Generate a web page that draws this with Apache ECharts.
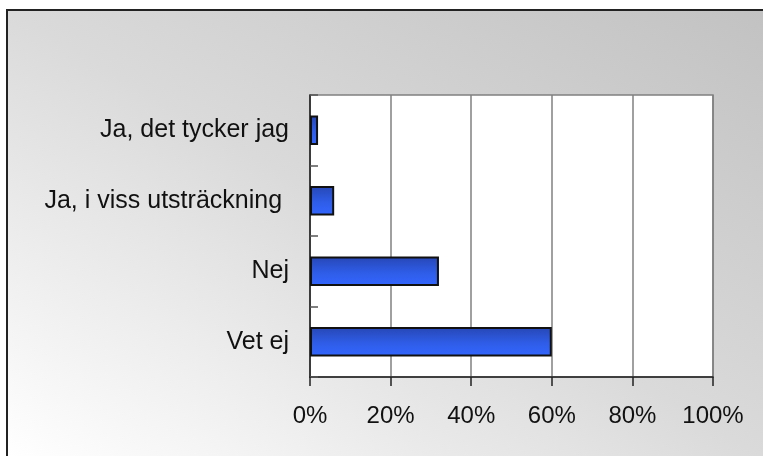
<!DOCTYPE html>
<html>
<head>
<meta charset="utf-8">
<script src="https://cdn.jsdelivr.net/npm/echarts@6/dist/echarts.min.js"></script>
<style>
  html, body { margin: 0; padding: 0; background: #fff; }
  #chart { width: 763px; height: 456px; }
</style>
</head>
<body>
<div id="chart"></div>
<script>
// answers, top to bottom
const categories = ['Ja, det tycker jag', 'Ja, i viss utsträckning ', 'Nej', 'Vet ej'];
const shares = [2, 6, 32, 60];
const tickMax = 100;
const tickStep = 20;

const chart = echarts.init(document.getElementById('chart'), null, { renderer: 'canvas' });

const font = "'Liberation Sans', Arial, sans-serif";

const option = {
  backgroundColor: '#ffffff',
  animation: false,
  textStyle: { fontFamily: font },
  graphic: [{
    type: 'rect',
    z: -10,
    silent: true,
    shape: { x: 7, y: 10, width: 800, height: 500 },
    style: {
      fill: {
        type: 'linear', x: 7, y: 456, x2: 397, y2: -205, global: true,
        colorStops: [
          { offset: 0, color: '#ffffff' },
          { offset: 0.5, color: '#dadada' },
          { offset: 1, color: '#c2c2c2' }
        ]
      },
      stroke: '#222',
      lineWidth: 2
    }
  }],
  grid: {
    left: 310,
    right: 50,
    top: 95,
    bottom: 79,
    show: true,
    backgroundColor: '#ffffff',
    borderColor: '#808080',
    borderWidth: 1.5
  },
  xAxis: {
    type: 'value',
    min: 0,
    max: tickMax,
    interval: tickStep,
    axisLine: { show: true, lineStyle: { color: '#222', width: 1.5 } },
    axisTick: { show: true, inside: false, length: 9, lineStyle: { color: '#222', width: 1.5 } },
    splitLine: { show: true, lineStyle: { color: '#808080', width: 1.5 } },
    axisLabel: {
      formatter: '{value}%',
      color: '#111',
      fontSize: 24,
      fontFamily: font,
      margin: 27
    }
  },
  yAxis: {
    type: 'category',
    inverse: true,
    data: categories,
    axisLine: { show: true, lineStyle: { color: '#222', width: 1.5 } },
    axisTick: { show: true, inside: true, length: 8, lineStyle: { color: '#555', width: 1.5 } },
    axisLabel: {
      color: '#111',
      fontSize: 25,
      fontFamily: font,
      margin: 21
    }
  },
  series: [{
    type: 'bar',
    data: shares,
    barWidth: '42%',
    itemStyle: {
      borderColor: '#111',
      borderWidth: 2,
      color: {
        type: 'linear', x: 0, y: 0, x2: 0, y2: 1,
        colorStops: [
          { offset: 0, color: '#2646b4' },
          { offset: 0.55, color: '#2f5de8' },
          { offset: 1, color: '#3366ff' }
        ]
      }
    }
  }]
};

chart.setOption(option);
</script>
</body>
</html>
